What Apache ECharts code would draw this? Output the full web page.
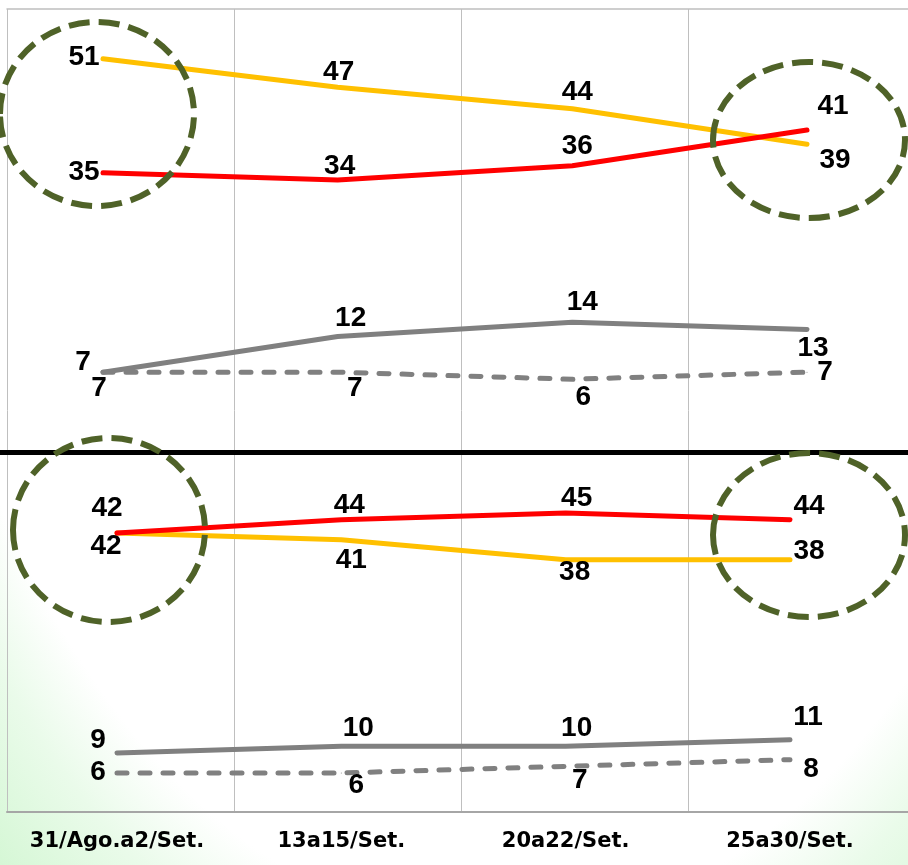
<!DOCTYPE html>
<html>
<head>
<meta charset="utf-8">
<script src="https://cdn.jsdelivr.net/npm/echarts@6/dist/echarts.min.js"></script>
<style>
  html, body { margin: 0; padding: 0; }
  body {
    width: 908px; height: 865px; overflow: hidden;
    background: radial-gradient(ellipse 640px 1000px at 500px 0px, #ffffff 0%, #ffffff 93%, #eafbea 103%, #d0f6d0 120%);
  }
  #chart { width: 908px; height: 865px; }
</style>
</head>
<body>
<div id="chart"></div>
<script>
// ---- data ----
const categories = ['31/Ago.a2/Set.', '13a15/Set.', '20a22/Set.', '25a30/Set.'];
const topYellow = [51, 47, 44, 39];
const topRed = [35, 34, 36, 41];
const topGray = [7, 12, 14, 13];
const topGrayDashed = [7, 7, 6, 7];
const botRed = [42, 44, 45, 44];
const botYellow = [42, 41, 38, 38];
const botGray = [9, 10, 10, 11];
const botGrayDashed = [6, 6, 7, 8];

// ---- label placement (style only: offset of label centre from point) ----
const labelOffsets = {
  topYellow: [[-19, -2], [1, -15], [5, -16], [28, 16]],
  topRed: [[-19, 0], [2, -14], [5, -19], [26, -24]],
  topGray: [[-20, -10], [13, -18], [10, -20], [6, 19]],
  topGrayDashed: [[-4, 16], [17, 16], [11, 18], [18, 0]],
  botRed: [[-10, -25], [8, -14], [11, -15], [19, -13]],
  botYellow: [[-11, 13], [10, 21], [9, 13], [19, -8]],
  botGray: [[-19, -13], [17, -18], [11, -18], [18, -22]],
  botGrayDashed: [[-19, -1], [15, 12], [14, 14], [21, 10]]
};

const YELLOW = '#FFC000', RED = '#FF0000', GRAY = '#808080';

function mkSeries(values, offsets, color, dashed, xi, yi, z) {
  return {
    type: 'line',
    xAxisIndex: xi, yAxisIndex: yi,
    z: z,
    symbol: 'circle', symbolSize: 1,
    itemStyle: { color: color },
    lineStyle: { color: color, width: 5, cap: 'round', join: 'round', type: dashed ? [10, 13] : 'solid' },
    label: {
      show: true, position: 'inside',
      fontFamily: 'Liberation Sans, Arial, sans-serif', fontWeight: 'bold', fontSize: 28, color: '#000'
    },
    labelLayout: function (params) {
      const o = offsets[params.dataIndex] || [0, 0];
      return { dx: o[0], dy: o[1], hideOverlap: false };
    },
    emphasis: { disabled: true },
    data: values.slice()
  };
}

const circleStyle = { fill: 'none', stroke: '#4F6228', lineWidth: 6, lineDash: [21, 9] };

const option = {
  animation: false,
  backgroundColor: 'transparent',
  grid: [
    { left: 7, top: 9, right: 0, height: 803 },
    { left: 103, right: 101, top: 9, height: 413 },
    { left: 117, right: 118, top: 453, height: 360 },
    { left: 0, right: 0, top: 452, height: 10 }
  ],
  xAxis: [
    { gridIndex: 0, type: 'value', min: 0, max: 901 / 227, interval: 1,
      axisLine: { show: true, onZero: false, lineStyle: { color: '#A6A6A6', width: 2 } },
      axisTick: { show: false }, axisLabel: { show: false },
      splitLine: { show: true, showMaxLine: false, lineStyle: { color: '#BFBFBF', width: 1 } } },
    { gridIndex: 0, type: 'value', min: 0, max: 901 / 227, position: 'top',
      axisLine: { show: true, onZero: false, lineStyle: { color: '#BFBFBF', width: 1.5 } },
      axisTick: { show: false }, axisLabel: { show: false }, splitLine: { show: false } },
    { gridIndex: 1, type: 'category', data: categories, boundaryGap: false, show: false },
    { gridIndex: 2, type: 'category', data: categories, boundaryGap: false,
      axisLine: { show: false }, axisTick: { show: false }, splitLine: { show: false },
      axisLabel: { show: true, margin: 18, color: '#000', fontFamily: 'DejaVu Sans, sans-serif',
        fontWeight: 'bold', fontSize: 21, interval: 0 } },
    { gridIndex: 3, type: 'category', data: categories, position: 'top',
      axisLine: { show: true, onZero: false, lineStyle: { color: '#000', width: 5 } },
      axisTick: { show: false }, axisLabel: { show: false }, splitLine: { show: false } }
  ],
  yAxis: [
    { gridIndex: 0, type: 'value', min: 0, max: 1, show: false },
    { gridIndex: 1, type: 'value', min: 0, max: 58, show: false },
    { gridIndex: 2, type: 'value', min: 0, max: 54, show: false },
    { gridIndex: 3, type: 'value', min: 0, max: 1, show: false }
  ],
  series: [
    mkSeries(topGray, labelOffsets.topGray, GRAY, false, 2, 1, 3),
    mkSeries(topGrayDashed, labelOffsets.topGrayDashed, GRAY, true, 2, 1, 4),
    mkSeries(topYellow, labelOffsets.topYellow, YELLOW, false, 2, 1, 5),
    mkSeries(topRed, labelOffsets.topRed, RED, false, 2, 1, 6),
    mkSeries(botGray, labelOffsets.botGray, GRAY, false, 3, 2, 3),
    mkSeries(botGrayDashed, labelOffsets.botGrayDashed, GRAY, true, 3, 2, 4),
    mkSeries(botYellow, labelOffsets.botYellow, YELLOW, false, 3, 2, 5),
    mkSeries(botRed, labelOffsets.botRed, RED, false, 3, 2, 6)
  ],
  graphic: [
    { type: 'ellipse', z: 100, shape: { cx: 97, cy: 114, rx: 97, ry: 92 }, style: circleStyle },
    { type: 'ellipse', z: 100, shape: { cx: 809, cy: 140, rx: 96, ry: 78 }, style: circleStyle },
    { type: 'ellipse', z: 100, shape: { cx: 109, cy: 530, rx: 96, ry: 92 }, style: circleStyle },
    { type: 'ellipse', z: 100, shape: { cx: 809, cy: 535, rx: 96, ry: 82 }, style: circleStyle }
  ]
};

const chart = echarts.init(document.getElementById('chart'), null, { renderer: 'canvas' });
chart.setOption(option);
</script>
</body>
</html>
